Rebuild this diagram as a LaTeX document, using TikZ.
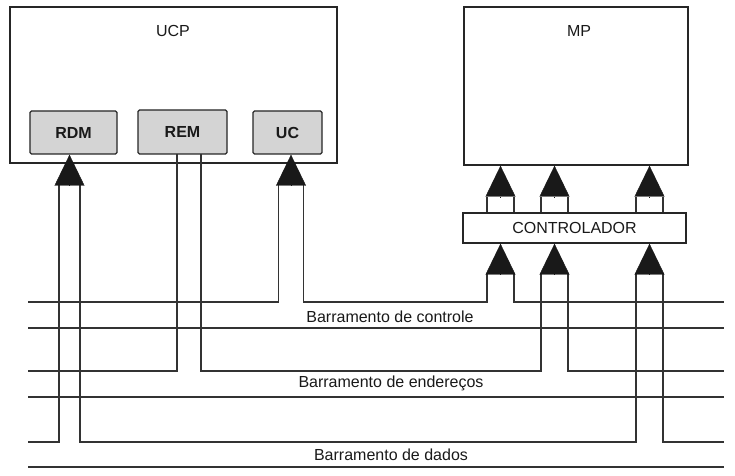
\documentclass[tikz,border=0pt]{standalone}
\usepackage{fontspec}
\setmainfont{Liberation Sans}
\usetikzlibrary{arrows.meta}

\begin{document}
\begin{tikzpicture}[x=1bp, y=-1bp, font=\fontsize{16bp}{19bp}\selectfont, text=black!90,
    caixa/.style = {draw=black!85, line width=1.4bp, inner sep=0pt},
    reg/.style = {caixa, fill=black!17, rounded corners=1.5bp, font=\fontsize{16bp}{19bp}\selectfont\bfseries},
    fio/.style = {draw=black!80, line width=1.1bp},
    seta/.style = {black!90, line width=0.4bp, -{Triangle[length=31bp, width=30bp]}}]
    \useasboundingbox (0,0) rectangle (735,476);

    % UCP e registradores
    \node[caixa, minimum width=327bp, minimum height=156bp] (ucp) at (173.5,85) {};
    \node (ucptxt) at (173,31) {UCP};
    \node[reg, minimum width=87bp, minimum height=43bp] (rdm) at (73.5,132.5) {RDM};
    \node[reg, minimum width=89bp, minimum height=44bp] (rem) at (182.5,132) {REM};
    \node[reg, minimum width=69bp, minimum height=43bp] (uc) at (287.5,132.5) {UC};

    % MP e controlador
    \node[caixa, minimum width=224bp, minimum height=158bp] (mp) at (576,86) {};
    \node (mptxt) at (579,31) {MP};
    \node[caixa, minimum width=223bp, minimum height=30bp] (ctrl) at (574.5,228) {CONTROLADOR};

    % extremidades dos barramentos
    \coordinate (c1) at (28,302);  \coordinate (c2) at (724,302);
    \coordinate (c3) at (28,328);  \coordinate (c4) at (724,328);
    \coordinate (e1) at (28,371);  \coordinate (e2) at (724,371);
    \coordinate (e3) at (28,397);  \coordinate (e4) at (724,397);
    \coordinate (d1) at (28,442);  \coordinate (d2) at (724,442);
    \coordinate (d3) at (28,467);  \coordinate (d4) at (724,467);

    % ligacoes da UCP
    \coordinate (rdmin) at (69.5,185);
    \coordinate (rdml) at (59,185);   \coordinate (rdmr) at (80,185);
    \coordinate (ucin) at (291,185);
    \coordinate (ucl) at (278.5,185); \coordinate (ucr) at (303.5,185);
    \coordinate (reml) at (177,154);  \coordinate (remr) at (201,154);

    % ligacoes do controlador
    \foreach \n/\x in {1/500.5, 2/554.5, 3/649.5} {
        \coordinate (k\n) at (\x,273);
        \coordinate (k\n l) at (\x-13.5,273);
        \coordinate (k\n r) at (\x+13.5,273);
        \coordinate (m\n) at (\x,197);
        \coordinate (m\n l) at (\x-13.5,197);
        \coordinate (m\n r) at (\x+13.5,197);
        \draw[fio] (m\n l) -- (m\n l |- ctrl.north);
        \draw[fio] (m\n r) -- (m\n r |- ctrl.north);
    }

    % barramentos
    \draw[fio] (c1) -| (ucl) (ucr) -- (ucr |- c1) -| (k1l) (k1r) |- (c2);
    \draw[fio] (c3) -- (c4);
    \draw[fio] (e1) -| (reml) (remr) -- (remr |- e1) -| (k2l) (k2r) |- (e2);
    \draw[fio] (e3) -- (e4);
    \draw[fio] (d1) -| (rdml) (rdmr) -- (rdmr |- d1) -| (k3l) (k3r) |- (d2);
    \draw[fio] (d3) -- (d4);

    % setas
    \draw[seta] (rdmin) -- (rdmin |- rdm.south);
    \draw[seta] (ucin) -- (ucin |- uc.south);
    \foreach \n in {1,2,3} {
        \draw[seta] (k\n) -- (k\n |- ctrl.south);
        \draw[seta] (m\n) -- (m\n |- mp.south);
    }

    \node (lblc) at (390,317) {Barramento de controle};
    \node (lble) at (391,383) {Barramento de endereços};
    \node (lbld) at (391,455) {Barramento de dados};
\end{tikzpicture}
\end{document}
